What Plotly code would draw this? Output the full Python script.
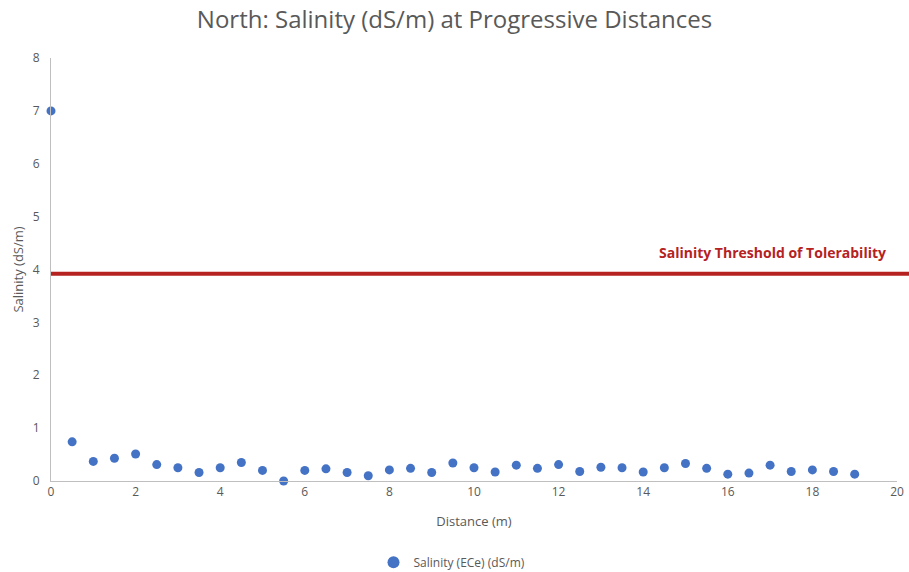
import plotly.graph_objects as go

distance = [0, 0.5, 1, 1.5, 2, 2.5, 3, 3.5, 4, 4.5, 5, 5.5, 6, 6.5, 7, 7.5, 8, 8.5, 9, 9.5,
            10, 10.5, 11, 11.5, 12, 12.5, 13, 13.5, 14, 14.5, 15, 15.5, 16, 16.5, 17, 17.5,
            18, 18.5, 19]
salinity = [7.0, 0.74, 0.37, 0.43, 0.51, 0.31, 0.25, 0.16, 0.25, 0.35, 0.20, 0.0, 0.20, 0.23,
            0.16, 0.10, 0.21, 0.24, 0.16, 0.34, 0.25, 0.17, 0.30, 0.24, 0.31, 0.18, 0.26, 0.25,
            0.17, 0.25, 0.33, 0.24, 0.13, 0.15, 0.30, 0.18, 0.21, 0.18, 0.13]
threshold = 3.92
threshold_label = "Salinity Threshold of Tolerability"

grey = "#595959"
font_family = "Open Sans, Liberation Sans, sans-serif"

fig = go.Figure()
fig.add_trace(go.Scatter(
    x=distance, y=salinity, mode="markers",
    name="Salinity (ECe) (dS/m)",
    marker=dict(color="#4472C4", size=9),
    cliponaxis=False,
))

fig.add_shape(type="line", xref="paper", yref="y", x0=0, x1=1.02, y0=threshold, y1=threshold,
              line=dict(color="#B5221F", width=4), layer="above")
fig.add_annotation(text="<b>" + threshold_label + "</b>", xref="paper", yref="y",
                   x=0.989, y=threshold, xanchor="right", yanchor="bottom", yshift=10,
                   showarrow=False, font=dict(color="#B5221F", size=14, family=font_family))

fig.update_layout(
    width=909, height=572,
    margin=dict(l=51, r=12, t=58, b=91, autoexpand=False),
    paper_bgcolor="white", plot_bgcolor="white",
    font=dict(family=font_family, color=grey, size=12),
    title=dict(text="North: Salinity (dS/m) at Progressive Distances", x=0.5, xanchor="center",
               y=0.965, yanchor="middle", font=dict(size=24, color=grey, family=font_family)),
    showlegend=True,
    legend=dict(orientation="h", x=0.474, xanchor="center", y=-0.192, yanchor="middle",
                font=dict(size=12, color=grey), itemsizing="constant", itemwidth=30),
    xaxis=dict(range=[0, 20], tickvals=list(range(0, 21, 2)), showgrid=False, zeroline=False,
               showline=True, linecolor="#BFBFBF", linewidth=1, ticks="", automargin=False,
               tickfont=dict(size=12, color=grey),
               title=dict(text="Distance (m)", font=dict(size=13, color=grey), standoff=17)),
    yaxis=dict(range=[0, 8], tickvals=list(range(0, 9)), showgrid=False, zeroline=False,
               showline=True, linecolor="#BFBFBF", linewidth=1, ticks="", automargin=False,
               tickfont=dict(size=12, color=grey), ticklabelstandoff=8,
               title=dict(text="Salinity (dS/m)", font=dict(size=13, color=grey), standoff=6)),
)

fig.write_html("out.html")
